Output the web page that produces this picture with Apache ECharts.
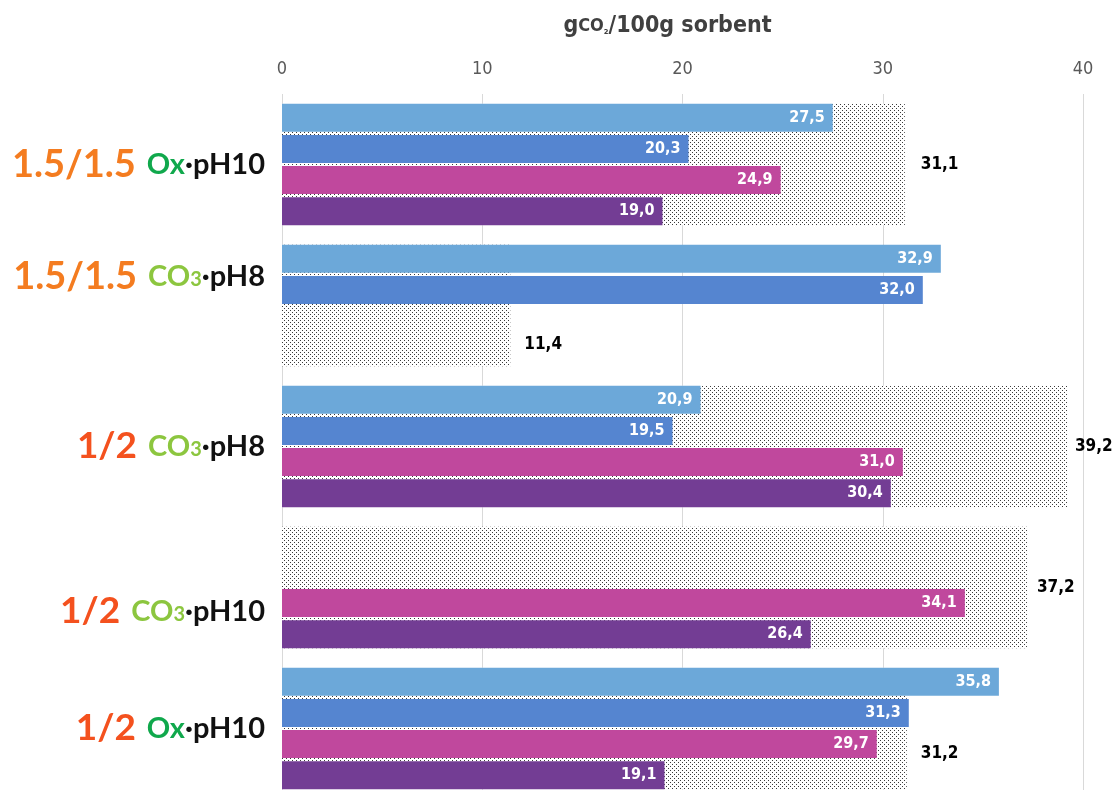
<!DOCTYPE html>
<html>
<head>
<meta charset="utf-8">
<script src="https://cdn.jsdelivr.net/npm/echarts@6/dist/echarts.min.js"></script>
<style>
html,body{margin:0;padding:0;background:#fff;}
#main{width:1112px;height:790px;}
</style>
</head>
<body>
<div id="main"></div>
<script>
// ---- data ----
var categories = ['1.5/1.5 Ox·pH10', '1.5/1.5 CO3·pH8', '1/2 CO3·pH8', '1/2 CO3·pH10', '1/2 Ox·pH10'];
var seriesLightBlue = [27.5, 32.9, 20.9, null, 35.8];
var seriesBlue      = [20.3, 32.0, 19.5, null, 31.3];
var seriesMagenta   = [24.9, null, 31.0, 34.1, 29.7];
var seriesPurple    = [19.0, null, 30.4, 26.4, 19.1];
var seriesTotal     = [31.1, 11.4, 39.2, 37.2, 31.2];
var xTicks = [0, 10, 20, 30, 40];

// label placement for the total (pattern) bars: [distance, vertical offset]
var totalLabelPlace = [[16, 0], [14, 39], [8, 0], [10, 0], [14, 25]];

// ---- pattern ----
var pc = document.createElement('canvas');
pc.width = 4; pc.height = 4;
var ctx = pc.getContext('2d');
ctx.fillStyle = '#ffffff';
ctx.fillRect(0, 0, 4, 4);
ctx.fillStyle = '#3a3a3a';
ctx.fillRect(0, 0, 1, 1);
ctx.fillRect(2, 2, 1, 1);

var narrow = '"Liberation Sans Narrow", "DejaVu Sans Condensed", sans-serif';
var labFont = 'Lato, "Open Sans", sans-serif';

function fmt(p) { return p.value == null ? '' : Number(p.value).toFixed(1).replace('.', ','); }

var labelMap = {
  '1.5/1.5 Ox·pH10': '{o|1.5/1.5}{gap| }{ox|Ox}{k|·pH10}',
  '1.5/1.5 CO3·pH8': '{o|1.5/1.5}{gap| }{co|CO}{co3|3}{k|·pH8}\n{sp1| }',
  '1/2 CO3·pH8': '{r|1/2}{gap| }{co|CO}{co3|3}{k|·pH8}',
  '1/2 CO3·pH10': '{sp2| }\n{r|1/2}{gap| }{co|CO}{co3|3}{k|·pH10}',
  '1/2 Ox·pH10': '{r|1/2}{gap| }{ox|Ox}{k|·pH10}'
};

var totalData = seriesTotal.map(function (v, i) {
  return {value: v, label: {distance: totalLabelPlace[i][0], offset: [0, totalLabelPlace[i][1]]}};
});

var chart = echarts.init(document.getElementById('main'), null, {renderer: 'canvas'});
var colBar = function (name, data, color) {
  return {
    name: name, type: 'bar', yAxisIndex: 0, data: data, z: 3,
    barGap: '11%', barCategoryGap: '14%',
    itemStyle: {color: color},
    label: {show: true, position: 'insideRight', distance: 8, color: '#fff',
      fontFamily: narrow, fontWeight: 'bold', fontSize: 16, formatter: fmt}
  };
};

chart.setOption({
  animation: false,
  grid: {left: 282, right: 29, top: 94, height: 705, containLabel: false, outerBoundsMode: 'none'},
  xAxis: {
    type: 'value', position: 'top', min: 0, max: 40, interval: 10,
    name: '{g|g}{c|CO}{s|₂}{g|/100g sorbent}', nameLocation: 'middle', nameGap: 56,
    nameTextStyle: {padding: [0, 30, 0, 0], rich: {
      g: {fontFamily: narrow, fontWeight: 'bold', fontSize: 23, color: '#404040'},
      c: {fontFamily: narrow, fontWeight: 'bold', fontSize: 18, color: '#404040'},
      s: {fontFamily: narrow, fontWeight: 'bold', fontSize: 12, color: '#404040', verticalAlign: 'middle', padding: [8, 0, 0, 0]}
    }},
    axisLine: {show: false}, axisTick: {show: false},
    axisLabel: {margin: 16, color: '#595959', fontFamily: narrow, fontSize: 18,
      formatter: function (v) { return xTicks.indexOf(v) >= 0 ? String(v) : ''; }},
    splitLine: {show: true, lineStyle: {color: '#d9d9d9', width: 1}}
  },
  yAxis: [{
    type: 'category', inverse: true, data: categories,
    axisLine: {show: false}, axisTick: {show: false},
    axisLabel: {
      margin: 17, align: 'right',
      formatter: function (v) { return labelMap[v]; },
      rich: {
        o: {fontFamily: labFont, fontWeight: 'bold', fontSize: 38, color: '#f47c20'},
        r: {fontFamily: labFont, fontWeight: 'bold', fontSize: 37, color: '#f4511e'},
        gap: {fontSize: 14, width: 11},
        ox: {fontFamily: labFont, fontWeight: 'bold', fontSize: 29, color: '#10a84c'},
        co: {fontFamily: labFont, fontWeight: 'bold', fontSize: 29, color: '#8cc63f'},
        co3: {fontFamily: labFont, fontWeight: 'bold', fontSize: 20, color: '#8cc63f', verticalAlign: 'middle', padding: [7, 0, 0, 0]},
        k: {fontFamily: labFont, fontWeight: 'bold', fontSize: 29, color: '#111'},
        sp1: {fontSize: 10, lineHeight: 58},
        sp2: {fontSize: 10, lineHeight: 48}
      }
    }
  }, {
    type: 'category', inverse: true, data: categories, show: false
  }],
  series: [
    {
      name: 'total', type: 'bar', yAxisIndex: 1, data: totalData, z: 1,
      barCategoryGap: '14%',
      itemStyle: {color: {image: pc, repeat: 'repeat'}},
      label: {show: true, position: 'right', color: '#000',
        fontFamily: narrow, fontWeight: 'bold', fontSize: 17, formatter: fmt}
    },
    colBar('a', seriesLightBlue, '#6ca8d9'),
    colBar('b', seriesBlue, '#5585d0'),
    colBar('c', seriesMagenta, '#c0489d'),
    colBar('d', seriesPurple, '#733d94')
  ]
});
</script>
</body>
</html>
